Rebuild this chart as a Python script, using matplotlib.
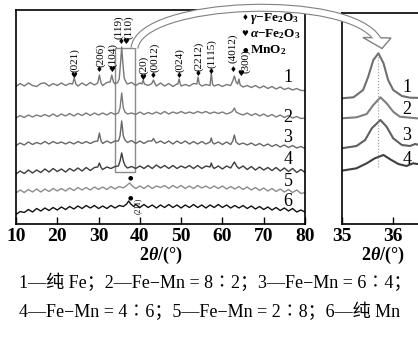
import matplotlib
matplotlib.use("Agg")
import matplotlib.pyplot as plt
from matplotlib.patches import Rectangle, PathPatch, Polygon
from matplotlib.path import Path

plt.rcParams['font.family'] = ['Liberation Serif', 'Noto Sans CJK SC']
plt.rcParams['mathtext.fontset'] = 'custom'
plt.rcParams['mathtext.rm'] = 'Liberation Serif:bold'
plt.rcParams['mathtext.it'] = 'Liberation Serif:italic:bold'
plt.rcParams['mathtext.bf'] = 'Liberation Serif:bold'

# ---- full range patterns (stacked, a.u.) ----
x1 = [10, 11, 12, 13, 14, 15, 16, 17, 18, 19, 20, 21, 22, 23, 23.7, 24.1, 24.5, 25, 26, 27, 28, 29,
      29.8, 30.2, 30.6, 31, 32, 32.8, 33.2, 33.6, 34, 34.6, 35.0, 35.3, 35.6, 35.9, 36.2, 36.7, 37,
      38, 39, 40, 40.5, 40.8, 41.1, 42, 42.9, 43.3, 43.7, 44, 45, 46, 47, 48, 49, 49.2, 49.5, 49.8,
      50, 51, 52, 53, 53.8, 54.1, 54.4, 55, 56, 57, 57.3, 57.6, 58, 59, 60, 61, 62, 62.5, 62.9, 63.3,
      63.7, 64, 64.3, 65, 66, 67, 68, 69, 70, 71, 72, 73, 74, 75, 76, 77, 78, 79, 80]
y1 = [137.5, 140.5, 138, 141, 138.5, 137.5, 140.5, 141, 138, 140.5, 138.5, 141, 138.5, 140.5,
      140, 146, 140, 138, 141, 138.5, 141.5, 139, 141, 149, 141, 138.5, 141.5, 142, 149, 142,
      140, 141.5, 145, 160, 177, 160, 146, 141.5, 140, 141.5, 138.5, 141, 140, 144, 140, 138.5,
      140.5, 144, 140, 138, 141, 138, 140.5, 137.5, 140, 140, 145, 140, 138, 139.5, 138, 140.5,
      140, 147, 140, 138, 139.5, 138.5, 151, 140, 138, 139.5, 137.5, 139.5, 138.5, 143, 148, 142,
      140, 145, 139, 137, 138.5, 136.5, 138.5, 136, 138, 135.5, 137.5, 135, 137, 134.5, 136, 134,
      135.5, 133.5, 133.5]

x2 = [10, 11, 12, 13, 14, 15, 16, 17, 18, 19, 20, 21, 22, 23, 24, 25, 26, 27, 28, 29, 30, 31, 32, 33,
      34, 34.8, 35.2, 35.6, 36.0, 36.4, 37, 38, 39, 40, 41, 42, 43, 44, 45, 46, 47, 48, 49, 50, 51,
      52, 53, 54, 55, 56, 57, 58, 59, 60, 61, 62, 62.5, 62.9, 63.3, 64, 65, 66, 67, 68, 69, 70, 71,
      72, 73, 74, 75, 76, 77, 78, 79, 80]
y2 = [106, 108.5, 106.5, 109, 107, 109, 107.5, 109.5, 107.5, 110, 107.5, 110, 108, 110.5, 108,
      110.5, 108.5, 111, 108.5, 111, 109, 111, 109, 111.5, 109.5, 111, 116, 131, 116, 112, 110,
      111, 109.5, 112, 109.5, 111.5, 110, 112, 110, 112.5, 110, 112, 110.5, 112.5, 110.5, 112,
      110.5, 112.5, 111, 112.5, 110.5, 112, 110.5, 112, 110, 111.5, 113, 116, 112, 110.5, 109,
      111, 108.5, 110.5, 108, 110, 107.5, 109.5, 107, 109, 106.5, 108.5, 106, 107.5, 105.5, 106]

x3 = [10, 11, 12, 13, 14, 15, 16, 17, 18, 19, 20, 21, 22, 23, 24, 25, 26, 27, 28, 29, 29.8, 30.2,
      30.6, 31, 32, 33, 34, 34.8, 35.2, 35.6, 36.0, 36.4, 37, 38, 39, 40, 41, 42, 42.9, 43.3, 43.7,
      44, 45, 46, 47, 48, 49, 50, 51, 52, 53, 54, 55, 56, 57, 57.3, 57.6, 58, 59, 60, 61, 62, 62.5,
      62.9, 63.3, 64, 65, 66, 67, 68, 69, 70, 71, 72, 73, 74, 75, 76, 77, 78, 79, 80]
y3 = [78.5, 81, 79, 82, 79.5, 81.5, 80, 82.5, 80, 82.5, 80.5, 82, 80, 82, 80, 82.5, 80.5, 82.5,
      80.5, 82.5, 83, 91, 83, 80.5, 83, 81, 83, 83, 88, 103, 88, 84, 81.5, 83.5, 80.5, 83, 80.5,
      83, 83, 85.5, 82.5, 81, 83, 80.5, 83, 80, 83, 80.5, 83, 80, 82.5, 80, 82.5, 80, 82, 86, 81.5,
      80, 82, 79.5, 82, 79.5, 83, 89, 82, 79.5, 81, 79, 81, 78.5, 80.5, 78, 80, 77.5, 79.5, 77,
      79, 76.5, 78.5, 76, 77.5, 75.5]

x4 = [10, 11, 12, 13, 14, 15, 16, 17, 18, 19, 20, 21, 22, 23, 24, 25, 26, 27, 28, 29, 29.8, 30.2,
      30.6, 31, 32, 33, 34, 34.8, 35.2, 35.6, 36.0, 36.4, 37, 38, 39, 40, 41, 42, 43, 44, 45, 46,
      47, 48, 49, 50, 51, 52, 53, 54, 55, 56, 57, 57.3, 57.6, 58, 59, 60, 61, 62, 62.9, 63.5, 64,
      65, 66, 67, 68, 69, 70, 71, 72, 73, 74, 75, 76, 77, 78, 79, 80]
y4 = [50, 53, 50.5, 54, 51, 54, 51.5, 55, 52, 55.5, 52.5, 55, 52, 55.5, 53, 56, 53, 56.5, 53.5,
      56.5, 57, 61, 56.5, 54.5, 57, 55.5, 57.5, 58, 63, 71, 63, 58.5, 56, 57.5, 55.5, 58, 55.5,
      58.5, 55.5, 59, 56, 58.5, 55.5, 58.5, 55.5, 58, 56, 58.5, 55.5, 58.5, 55.5, 58, 57, 61, 57.5,
      55.5, 58, 55, 58, 56, 62, 57.5, 55.5, 58, 54.5, 57.5, 54, 57, 54, 56.5, 53.5, 56.5, 53, 56,
      52.5, 55.5, 51.5, 54.5, 51.5]

x5 = [10, 11, 12, 13, 14, 15, 16, 17, 18, 19, 20, 21, 22, 23, 24, 25, 26, 27, 28, 29, 30, 31, 32,
      33, 34, 35, 36, 36.8, 37.5, 38.2, 39, 40, 41, 42, 43, 44, 45, 46, 47, 48, 49, 50, 51, 52, 53,
      54, 55, 56, 57, 58, 59, 60, 61, 62, 63, 64, 65, 66, 67, 68, 69, 70, 71, 72, 73, 74, 75, 76,
      77, 78, 79, 80]
y5 = [31, 34, 31.5, 34.5, 32, 35, 32, 35, 32.5, 35.5, 33, 35.5, 33, 36, 33.5, 36.5, 34, 36.5, 34,
      37, 34.5, 37, 34.5, 37.5, 35, 37.5, 36, 38.5, 41, 38, 35.5, 38, 35.5, 38.5, 35.5, 38, 36.5,
      38.5, 35.5, 38.5, 36, 38.5, 35.5, 38, 35.5, 38.5, 36, 38, 35.5, 38, 35.5, 38, 35, 37.5, 35,
      37.5, 34.5, 37, 34, 36.5, 33.5, 36, 33, 35.5, 32.5, 35, 32, 34.5, 31.5, 34, 30.5, 31.5]

x6 = [10, 11, 12, 13, 14, 15, 16, 17, 18, 19, 20, 21, 22, 23, 24, 25, 26, 27, 28, 29, 30, 31, 32,
      33, 34, 35, 36, 36.8, 37.3, 37.8, 38.5, 39, 40, 41, 42, 43, 44, 45, 46, 47, 48, 49, 50, 51,
      52, 53, 54, 55, 56, 57, 58, 59, 60, 61, 62, 63, 64, 65, 66, 67, 68, 69, 70, 71, 72, 73, 74,
      75, 76, 77, 78, 79, 80]
y6 = [9.5, 12.5, 11.5, 14.5, 12, 15.5, 13, 16, 13.5, 16.5, 14, 17, 14.5, 17.5, 15, 18, 15.5, 18.5,
      16, 18.5, 15.5, 18, 15.5, 18.5, 16, 18.5, 17.5, 20, 23, 20, 17.5, 19.5, 16.5, 19.5, 16.5, 19,
      16, 19, 16.5, 19.5, 16.5, 19, 16, 19, 16.5, 19.5, 16.5, 19, 16, 19, 16.5, 19.5, 16.5, 19, 16,
      18.5, 16, 18.5, 15.5, 18, 15, 17.5, 14.5, 17, 14, 16.5, 13.5, 16, 13, 15.5, 12, 14, 12]

full_x = [x1, x2, x3, x4, x5, x6]
full_y = [y1, y2, y3, y4, y5, y6]
full_colors = ['#777777', '#7a7a7a', '#666666', '#3c3c3c', '#8c8c8c', '#111111']
full_labels = ['1', '2', '3', '4', '5', '6']
label_y = [147, 107, 87, 64, 42, 22]

# peak markers: 2theta, height, phase, hkl, label position
peak_pos = [24.1, 30.2, 33.2, 35.4, 36.7, 40.8, 43.3, 49.5, 54.1, 57.3, 62.6, 64.5]
peak_h = [149, 154, 154, 182, 182, 147, 149, 149, 150, 153, 154, 151]
peak_phase = ['a', 'g', 'a', 'g', 'a', 'a', 'g', 'g', 'g', 'g', 'g', 'a']
peak_hkl = ['(021)', '(206)', '(104)', '(119)', '(110)', '(20)', '(0012)', '(024)', '(2212)',
            '(1115)', '(4012)', '(300)']
hkl_x = [24.3, 30.4, 33.4, 34.8, 37.4, 41.0, 43.5, 49.7, 54.3, 57.5, 62.6, 65.7]
hkl_y = [152, 157, 157, 185, 185, 150, 152, 152, 153, 156, 161, 151]
mno2_pos = [37.8, 37.7]
mno2_h = [46, 26]

# ---- zoomed region 35-36.5 ----
zx1 = [35.0, 35.23, 35.42, 35.52, 35.62, 35.72, 35.82, 35.91, 36.01, 36.18, 36.34, 36.6]
zy1 = [125.7, 126.7, 134, 147.3, 164, 170.7, 160.7, 144, 134, 128, 126.3, 126]
zx2 = [35.0, 35.29, 35.49, 35.62, 35.76, 35.88, 36.01, 36.14, 36.47, 36.6]
zy2 = [105.7, 106.7, 110, 119, 126.7, 120.7, 112.3, 107.3, 105.7, 105.5]
zx3 = [35.0, 35.29, 35.46, 35.59, 35.76, 35.88, 36.01, 36.18, 36.34, 36.44, 36.6]
zy3 = [75.7, 78, 84, 95.7, 104, 97.3, 85.7, 79, 78, 80, 78]
zx4 = [35.0, 35.29, 35.49, 35.65, 35.82, 35.95, 36.11, 36.27, 36.40, 36.6]
zy4 = [53.3, 55.7, 60.7, 65.7, 69, 64.7, 60, 58, 60.7, 59]
zoom_x = [zx1, zx2, zx3, zx4]
zoom_y = [zy1, zy2, zy3, zy4]
zoom_colors = ['#6f6f6f', '#7f7f7f', '#5f5f5f', '#3f3f3f']
zoom_label_y = [136, 114, 89, 64]
zoom_peak = 35.72

W, H = 418, 350
fig = plt.figure(figsize=(W / 100, H / 100), dpi=100)

ax1 = fig.add_axes([16 / W, 126 / H, 289 / W, 214 / H])
ax2 = fig.add_axes([341.7 / W, 126 / H, 81.6 / W, 211 / H])

for xs, ys, c in zip(full_x, full_y, full_colors):
    ax1.plot(xs, ys, color=c, lw=1.0)
for lab, ly in zip(full_labels, label_y):
    ax1.text(75.9, ly, lab, fontsize=13, ha='center', va='center')

sym = {'g': '\u2666', 'a': '\u2665'}
for p, h, ph, hkl, lx, ly in zip(peak_pos, peak_h, peak_phase, peak_hkl, hkl_x, hkl_y):
    ax1.text(p, h, sym[ph], fontsize=5.5, family='DejaVu Sans', ha='center', va='center')
    ax1.text(lx, ly, hkl, fontsize=8, rotation=90, ha='center', va='bottom')
for p, h in zip(mno2_pos, mno2_h):
    ax1.text(p, h, '\u25cf', fontsize=4.5, family='DejaVu Sans', ha='center', va='center')
ax1.text(39.6, 18, '(211)', fontsize=5.5, rotation=90, ha='center', va='center')

# legend of phases
leg_txt = [r'$\gamma$' + '\u2212Fe$_2$O$_3$', r'$\alpha$' + '\u2212Fe$_2$O$_3$', 'MnO$_2$']
leg_sym = ['\u2666', '\u2665', '\u25cf']
leg_sz = [5.5, 5.5, 4.5]
for i, (t, s, sz) in enumerate(zip(leg_txt, leg_sym, leg_sz)):
    yy = 1 - (18 + 16 * i - 10) / 214
    ax1.text(0.793, yy, s, fontsize=sz, family='DejaVu Sans', ha='center', va='center',
             transform=ax1.transAxes)
    ax1.text(0.81, yy, t, fontsize=9.5, fontweight='bold', ha='left', va='center',
             transform=ax1.transAxes)

ax1.add_patch(Rectangle((34.0, 52.3), 4.9, 124, fill=False, ec='#8a8a8a', lw=1))

for xs, ys, c in zip(zoom_x, zoom_y, zoom_colors):
    ax2.plot(xs, ys, color=c, lw=1.5)
for lab, ly in zip(['1', '2', '3', '4'], zoom_label_y):
    ax2.text(36.28, ly, lab, fontsize=13, ha='center', va='center')
ax2.plot([zoom_peak, zoom_peak], [57, 171], ls=':', color='#999999', lw=0.8)

ax1.set_xlim(10, 80)
ax1.set_ylim(0, 214)
ax1.set_xticks(range(10, 81, 10))
ax2.set_xlim(35, 36.6)
ax2.set_ylim(0, 211)
ax2.set_xticks([35, 36])
for ax in (ax1, ax2):
    ax.set_yticks([])
    ax.tick_params(axis='x', direction='in', length=5, width=1, labelsize=14, pad=3)
    for lbl in ax.get_xticklabels():
        lbl.set_fontweight('bold')
    for sp in ax.spines.values():
        sp.set_linewidth(1.2)
    ax.set_xlabel(r'2$\theta$/(°)', fontsize=13, fontweight='bold', labelpad=0)
ax2.spines['right'].set_visible(False)


# curved hollow arrow from the box to the zoom panel (pixel coords, y from top)
def fp(x, y):
    return (x / W, 1 - y / H)


verts = [fp(134.5, 48), fp(140, 0), fp(350, -8), fp(378, 40)]
codes = [Path.MOVETO, Path.CURVE4, Path.CURVE4, Path.CURVE4]
band = Path(verts, codes)
fig.add_artist(PathPatch(band, transform=fig.transFigure, fill=False, ec='#808080',
                         lw=5.8, capstyle='butt', zorder=10))
fig.add_artist(Polygon([fp(363, 37.5), fp(391, 38), fp(382, 48.5)], closed=True,
                       transform=fig.transFigure, fc='white', ec='#808080', lw=1, zorder=11))
fig.add_artist(PathPatch(band, transform=fig.transFigure, fill=False, ec='white',
                         lw=4.2, capstyle='butt', zorder=12))

cap = ['1\u2014纯 Fe\uff1b2\u2014Fe\u2212Mn = 8\u22362\uff1b3\u2014Fe\u2212Mn = 6\u22364\uff1b',
       '4\u2014Fe\u2212Mn = 4\u22366\uff1b5\u2014Fe\u2212Mn = 2\u22368\uff1b6\u2014纯 Mn']
fig.text(19 / W, 1 - 283 / H, cap[0], fontsize=13, ha='left', va='center')
fig.text(19 / W, 1 - 312 / H, cap[1], fontsize=13, ha='left', va='center')

fig.savefig('out.png', dpi=100)
